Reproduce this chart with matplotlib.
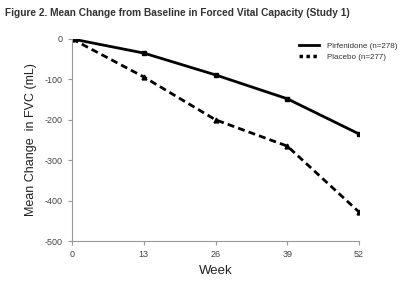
import matplotlib
matplotlib.use("Agg")
import matplotlib.pyplot as plt
from matplotlib.lines import Line2D

weeks = [0, 13, 26, 39, 52]
pirfenidone = [0, -35, -89, -148, -235]
placebo = [0, -94, -200, -265, -428]
xticks = [0, 13, 26, 39, 52]
yticks = [0, -100, -200, -300, -400, -500]
labels = ['Pirfenidone (n=278)', 'Placebo (n=277)']

plt.rcParams['font.family'] = ['Liberation Sans', 'DejaVu Sans']
fig = plt.figure(figsize=(4.0, 2.84), dpi=100)
ax = fig.add_axes([0.18, 0.151, 0.7175, 0.712])

ax.plot(weeks, pirfenidone, color='black', lw=2.0, marker='s', ms=3.5)
ax.plot(weeks, placebo, color='black', lw=2.0, ls=(0, (2.5, 1.5)), marker='^', ms=3.5)

ax.set_xlim(0, 52)
ax.set_ylim(-500, 0)
ax.set_xticks(xticks)
ax.set_yticks(yticks)
ax.set_xticklabels([str(x) for x in xticks])
ax.set_yticklabels([str(y) for y in yticks])
for s in ['top', 'right']:
    ax.spines[s].set_visible(False)
for s in ['left', 'bottom']:
    ax.spines[s].set_color('#999999')
    ax.spines[s].set_linewidth(0.8)
ax.tick_params(axis='both', colors='#999999', labelcolor='#444444', labelsize=6.5,
               length=3, width=0.8)
ax.set_xlabel('Week', fontsize=9.5, color='#222222', labelpad=4)
ax.set_ylabel('Mean Change  in FVC (mL)', fontsize=9, color='#222222', labelpad=6)

handles = [Line2D([], [], color='black', lw=2.0),
           Line2D([], [], color='black', lw=2.5, ls=(0, (1, 1)))]
leg = ax.legend(handles, labels, loc='upper left', bbox_to_anchor=(0.79, 0.985),
                frameon=False, fontsize=5.8, handlelength=2.5, labelspacing=0.5,
                handletextpad=1.0, borderpad=0, borderaxespad=0)
for t in leg.get_texts():
    t.set_color('#333333')

fig.text(0.012, 0.955, 'Figure 2. Mean Change from Baseline in Forced Vital Capacity (Study 1)',
         fontsize=7.3, fontweight='bold', color='#333333', va='center')

fig.savefig('out.png', dpi=100)
